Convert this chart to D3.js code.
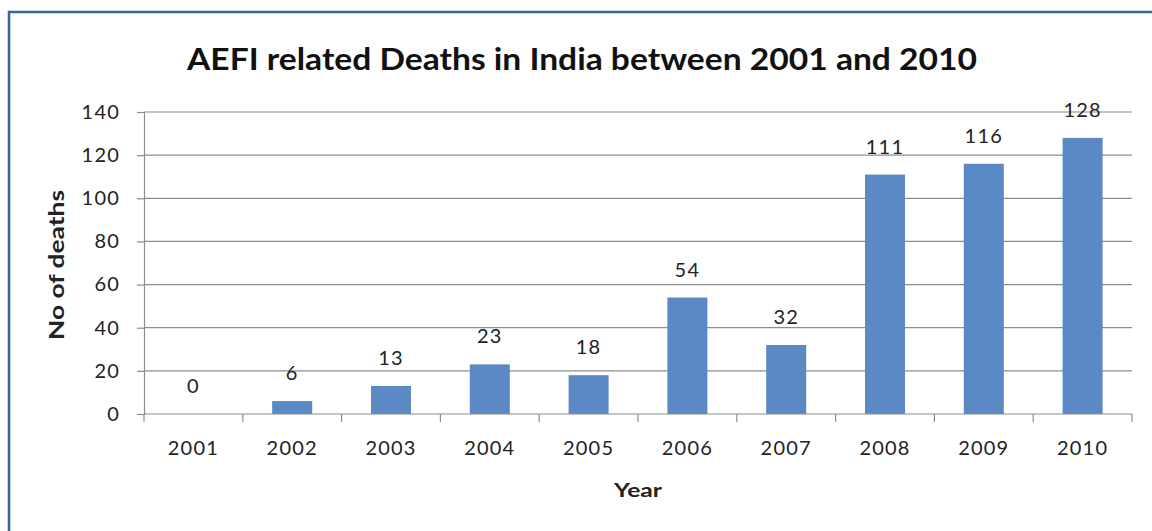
<!DOCTYPE html>
<html>
<head>
<meta charset="utf-8">
<title>AEFI related Deaths</title>
<style>
  body { margin: 0; background: #fff; }
  svg text { font-family: Lato, "Open Sans", sans-serif; }
</style>
</head>
<body>
<script src="https://cdn.jsdelivr.net/npm/d3@7/dist/d3.min.js"></script>
<script>
var years = ["2001", "2002", "2003", "2004", "2005", "2006", "2007", "2008", "2009", "2010"];
var deaths = [0, 6, 13, 23, 18, 54, 32, 111, 116, 128];
var yTicks = [0, 20, 40, 60, 80, 100, 120, 140];

var W = 1152, H = 531;
var margin = {top: 112, right: 20, bottom: 117, left: 144},
    width = 1132 - margin.left,
    height = 414 - margin.top;

var svg = d3.select("body").append("svg")
    .attr("width", W)
    .attr("height", H);

// outer frame (only top and left edges visible)
svg.append("path")
    .attr("d", "M9,531 L9,12 L1152,12")
    .attr("fill", "none")
    .attr("stroke", "#3b64a0")
    .attr("stroke-width", 2.5);

svg.append("text")
    .attr("x", 582).attr("y", 70)
    .attr("text-anchor", "middle")
    .attr("font-size", 30)
    .attr("font-weight", "bold")
    .attr("fill", "#111")
    .attr("textLength", 790)
    .attr("lengthAdjust", "spacingAndGlyphs")
    .text("AEFI related Deaths in India between 2001 and 2010");

var g = svg.append("g")
    .attr("transform", "translate(" + margin.left + "," + margin.top + ")");

var x = d3.scaleBand().domain(years).range([0, width]).paddingInner(0.595).paddingOuter(0.2975);
var xb = d3.scaleBand().domain(years).range([0, width]);
var y = d3.scaleLinear().domain([0, 140]).range([height, 0]);

// gridlines
g.selectAll(".grid").data(yTicks.slice(1)).enter().append("line")
    .attr("x1", 0).attr("x2", width)
    .attr("y1", function(d) { return y(d); })
    .attr("y2", function(d) { return y(d); })
    .attr("stroke", "#8c8c8c").attr("stroke-width", 1.2);

// y axis
var yAxis = g.append("g")
    .call(d3.axisLeft(y).tickValues(yTicks).tickSize(7).tickPadding(17));
yAxis.select(".domain").attr("stroke", "#8c8c8c").attr("stroke-width", 1.2);
yAxis.selectAll(".tick line").attr("stroke", "#8c8c8c").attr("stroke-width", 1.2);
yAxis.selectAll(".tick text").attr("font-size", 20).attr("fill", "#222")
    .style("letter-spacing", "1.2px")
    .style("font-family", "Lato, 'Open Sans', sans-serif");

// bars
g.selectAll(".bar").data(deaths).enter().append("rect")
    .attr("x", function(d, i) { return x(years[i]); })
    .attr("width", x.bandwidth())
    .attr("y", function(d) { return y(d); })
    .attr("height", function(d) { return height - y(d); })
    .attr("fill", "#5a89c4");

// data labels
g.selectAll(".lbl").data(deaths).enter().append("text")
    .attr("x", function(d, i) { return x(years[i]) + x.bandwidth() / 2; })
    .attr("y", function(d) { return y(d) - 21; })
    .attr("text-anchor", "middle")
    .attr("font-size", 20)
    .style("letter-spacing", "1.2px")
    .attr("fill", "#222")
    .text(function(d) { return d; });

// x axis with ticks at category boundaries
var xAxisG = g.append("g").attr("transform", "translate(0," + height + ")");
xAxisG.append("line")
    .attr("x1", 0).attr("x2", width)
    .attr("stroke", "#8c8c8c").attr("stroke-width", 1.2);
var bounds = years.map(function(d) { return xb(d); }).concat([width]);
xAxisG.selectAll(".xt").data(bounds).enter().append("line")
    .attr("x1", function(d) { return d; }).attr("x2", function(d) { return d; })
    .attr("y1", 0).attr("y2", 8)
    .attr("stroke", "#8c8c8c").attr("stroke-width", 1.2);
xAxisG.selectAll(".xl").data(years).enter().append("text")
    .attr("x", function(d) { return xb(d) + xb.bandwidth() / 2; })
    .attr("y", 41)
    .attr("text-anchor", "middle")
    .attr("font-size", 20)
    .style("letter-spacing", "1.2px")
    .attr("fill", "#222")
    .text(function(d) { return d; });

// axis titles
svg.append("text")
    .attr("x", 638).attr("y", 497)
    .attr("text-anchor", "middle")
    .attr("font-size", 19)
    .attr("font-weight", "bold")
    .attr("fill", "#222")
    .attr("textLength", 48)
    .attr("lengthAdjust", "spacingAndGlyphs")
    .text("Year");

svg.append("text")
    .attr("transform", "translate(64,265) rotate(-90)")
    .attr("text-anchor", "middle")
    .attr("font-size", 20)
    .attr("font-weight", "bold")
    .attr("fill", "#222")
    .attr("textLength", 150)
    .attr("lengthAdjust", "spacingAndGlyphs")
    .text("No of deaths");
</script>
</body>
</html>
